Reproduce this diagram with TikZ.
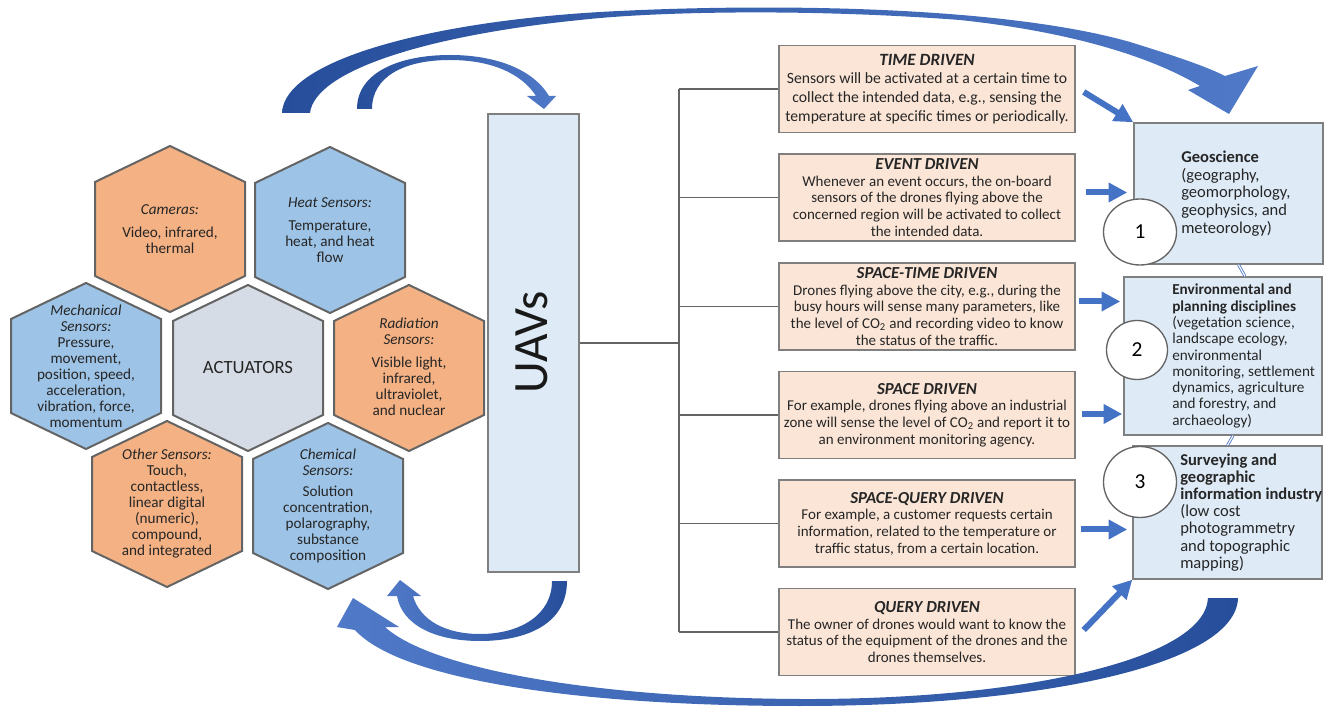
\documentclass[tikz,border=0pt]{standalone}
\usepackage{fontspec}
\setmainfont{Carlito}
\usetikzlibrary{arrows.meta,shapes.geometric,calc}

\definecolor{peach}{RGB}{251,229,214}
\definecolor{paleblue}{RGB}{222,235,247}
\definecolor{hexorange}{RGB}{244,177,131}
\definecolor{hexblue}{RGB}{157,195,230}
\definecolor{hexgray}{RGB}{214,220,229}
\definecolor{edgegray}{RGB}{100,100,100}
\definecolor{boxedge}{RGB}{127,127,127}
\definecolor{arrowblue}{RGB}{68,114,196}
\definecolor{darkblue}{RGB}{38,78,155}
\definecolor{midblue}{RGB}{80,122,200}

\newcommand\fs[2]{\fontsize{#1}{#2}\selectfont}
% heading of a data collection mode, a little larger than its description
\newcommand\modetitle[2][12.6]{{\fontsize{#1}{12.5}\selectfont\bfseries\itshape #2}}
% pointy-top hexagon around (#1,#2), 150 wide and 166 tall
\newcommand\hexpath[2]{(#1,#2-83) -- (#1+75,#2-47) -- (#1+75,#2+47) -- (#1,#2+83) -- (#1-75,#2+47) -- (#1-75,#2-47) -- cycle}

\tikzset{
  hexcell/.style={draw=edgegray, line width=1.5pt, line join=miter},
  hextext/.style={align=center, inner sep=0pt, font=\fs{11.4}{12}, text=black!85},
  peachbox/.style={draw=boxedge, fill=peach, line width=1.1pt, minimum width=222pt,
    minimum height=65.25pt, align=center, inner sep=0pt, text=black!85},
  fieldbox/.style={draw=boxedge, fill=paleblue, line width=1.1pt, inner sep=0pt},
  fieldtext/.style={anchor=west, align=left, inner sep=0pt, text=black!85},
  numdisc/.style={ellipse, draw=edgegray, fill=white, line width=1pt, inner sep=0pt,
    font=\fs{16}{16}},
  bus/.style={draw=edgegray, line width=1.1pt},
  flowarrow/.style={draw=arrowblue, line width=4.5pt, -{Triangle[length=14pt,width=14pt]}},
  linkline/.style={draw=arrowblue, double=white, double distance=0.9pt, line width=0.6pt}
}

\begin{document}
\begin{tikzpicture}[x=0.75pt,y=-0.75pt]
\useasboundingbox (0,0) rectangle (1328,712);

% ---------- sensor hexagons ----------
\path[hexcell, fill=hexorange] \hexpath{170}{229};
\path[hexcell, fill=hexblue]   \hexpath{330}{230};
\path[hexcell, fill=hexblue]   \hexpath{86}{366};
\path[hexcell, fill=hexgray]   \hexpath{248}{368};
\path[hexcell, fill=hexorange] \hexpath{409}{368};
\path[hexcell, fill=hexorange] \hexpath{167}{504};
\path[hexcell, fill=hexblue]   \hexpath{328}{506};

\node[hextext] (cam) at (170,229) {\textit{Cameras:}\\[5pt]Video, infrared,\\thermal};
\node[hextext] (heat) at (330,230) {\textit{Heat Sensors:}\\[5pt]Temperature,\\heat, and heat\\flow};
\node[hextext] (mech) at (86,366) {\textit{Mechanical}\\\textit{Sensors:}\\Pressure,\\movement,\\position, speed,\\acceleration,\\vibration, force,\\momentum};
\node[hextext, font=\fs{14}{14}] (act) at (248,368) {ACTUATORS};
\node[hextext] (rad) at (409,367) {\textit{Radiation}\\\textit{Sensors:}\\[5pt]Visible light,\\infrared,\\ultraviolet,\\and nuclear};
\node[hextext] (other) at (167,504) {\textit{Other Sensors:}\\Touch,\\contactless,\\linear digital\\(numeric),\\compound,\\and integrated};
\node[hextext] (chem) at (328,506) {\textit{Chemical}\\\textit{Sensors:}\\[4pt]Solution\\concentration,\\polarography,\\substance\\composition};

% ---------- UAV column ----------
\node[fieldbox, minimum width=68.25pt, minimum height=343.5pt] (uav) at (533.5,343) {};
\node[rotate=90, inner sep=0pt, font=\fs{37}{37}, text=black!90] (uavlabel) at (531.5,342) {UAVs};

% ---------- data collection modes ----------
\node[peachbox, font=\fs{11.75}{14}] (t1) at (927,89)
  {\modetitle[12.9]{TIME DRIVEN}\\Sensors will be activated at a certain time to\\collect the intended data, e.g., sensing the\\temperature at specific times or periodically.};
\node[peachbox, font=\fs{11.25}{12.5}] (t2) at (927,197.5)
  {\modetitle{EVENT DRIVEN}\\Whenever an event occurs, the on-board\\sensors of the drones flying above the\\concerned region will be activated to collect\\the intended data.};
\node[peachbox, font=\fs{11.25}{12.5}] (t3) at (927,306.5)
  {\modetitle{SPACE-TIME DRIVEN}\\Drones flying above the city, e.g., during the\\busy hours will sense many parameters, like\\the level of CO\textsubscript{2} and recording video to know\\the status of the traffic.};
\node[peachbox, font=\fs{11.25}{12.5}] (t4) at (927,415)
  {\modetitle{SPACE DRIVEN}\\For example, drones flying above an industrial\\zone will sense the level of CO\textsubscript{2} and report it to\\an environment monitoring agency.};
\node[peachbox, font=\fs{11.25}{12.5}] (t5) at (927,523.5)
  {\modetitle{SPACE-QUERY DRIVEN}\\For example, a customer requests certain\\information, related to the temperature or\\traffic status, from a certain location.};
\node[peachbox, font=\fs{11.25}{12.5}] (t6) at (927,632)
  {\modetitle{QUERY DRIVEN}\\The owner of drones would want to know the\\status of the equipment of the drones and the\\drones themselves.};

% ---------- bus from the UAVs to every mode ----------
\coordinate (hub) at (679,343);
\draw[bus] (uav.east) -- (hub);
\draw[bus] (t1.west -| hub) -- (t6.west -| hub);
\foreach \t in {t1,t2,t3,t4,t5,t6} \draw[bus] (\t.west -| hub) -- (\t.west);

% ---------- application fields ----------
\node[fieldbox, minimum width=141.75pt, minimum height=105.75pt] (geo) at (1228.5,193.5) {};
\node[fieldbox, minimum width=148.5pt, minimum height=118.5pt] (env) at (1223,356) {};
\node[fieldbox, minimum width=141.75pt, minimum height=99.75pt] (surv) at (1227.5,512.5) {};

\draw[linkline] ($(geo.south)+(10,0)$) -- ($(env.north)+(22,0)$);
\draw[linkline] ($(env.south)+(10,0)$) -- ($(surv.north)+(0,0)$);

\node[fieldtext, font=\fs{12.4}{13.3}] (geotxt) at (1181,193.5)
  {\textbf{Geoscience}\\(geography,\\geomorphology,\\geophysics, and\\meteorology)};
\node[fieldtext, font=\fs{11.4}{12.2}] (envtxt) at (1172,356)
  {\textbf{Environmental and}\\\textbf{planning disciplines}\\(vegetation science,\\landscape ecology,\\environmental\\monitoring, settlement\\dynamics, agriculture\\and forestry, and\\archaeology)};
\node[fieldtext, font=\fs{12.4}{12.8}] (survtxt) at (1180,512.5)
  {\textbf{Surveying and}\\\textbf{geographic}\\\textbf{information industry}\\(low cost\\photogrammetry\\and topographic\\mapping)};

\node[numdisc, minimum width=54.75pt, minimum height=49.5pt] (n1) at (1140,232) {1};
\node[numdisc, minimum width=45.75pt, minimum height=44.25pt] (n2) at (1137,350) {2};
\node[numdisc, minimum width=54.75pt, minimum height=53.25pt] (n3) at (1140,482) {3};

% ---------- mode-to-field arrows ----------
\draw[flowarrow] ($(t1.east)+(8,3)$) -- (geo.north west);
\draw[flowarrow] ($(t2.east)+(10,-5)$) -- ($(t2.east -| geo.west)+(-6,-5)$);
\draw[flowarrow] ($(t3.east)+(3,-5)$) -- ($(t3.east -| env.west)+(-3,-5)$);
\draw[flowarrow] ($(t4.east)+(6,-1)$) -- ($(t4.east -| env.west)+(-1,-1)$);
\draw[flowarrow] ($(t5.east)+(5,6)$) -- ($(t5.east -| surv.west)+(-5,6)$);
\draw[flowarrow] ($(t6.east)+(8,-2)$) -- (surv.south west);

% ---------- curved feedback arrows ----------
% large arc from the sensors over to the application fields
\shade[left color=darkblue, right color=midblue]
  (282,113) .. controls (284,60) and (430,22) .. (600,12)
  .. controls (760,3) and (1000,5) .. (1130,42)
  .. controls (1175,56) and (1205,66) .. (1225,76)
  -- (1258,66) -- (1229,114) -- (1188,90) -- (1200,86)
  .. controls (1170,68) and (1100,35) .. (960,20)
  .. controls (800,8) and (650,12) .. (580,20)
  .. controls (430,35) and (315,70) .. (310,113) -- cycle;
% small arc from the sensors into the UAVs
\shade[left color=darkblue, right color=midblue]
  (357,109) .. controls (357,72) and (400,55) .. (450,55)
  .. controls (500,55) and (535,72) .. (549,96)
  -- (556,96) -- (544,109) -- (527,96) -- (536,96)
  .. controls (522,74) and (492,60) .. (450,60)
  .. controls (405,60) and (372,76) .. (372,109) -- cycle;
% small arc from the UAVs back to the sensors
\shade[left color=midblue, right color=darkblue]
  (567,581) .. controls (567,625) and (525,641) .. (480,641)
  .. controls (435,641) and (402,625) .. (397,596)
  -- (387,596) -- (400,580) -- (421,596) -- (413,596)
  .. controls (420,620) and (445,634) .. (480,634)
  .. controls (520,634) and (552,615) .. (552,581) -- cycle;
% large arc from the application fields back to the sensors
\shade[left color=midblue, right color=darkblue]
  (1238,598) .. controls (1236,665) and (1040,706) .. (800,706)
  .. controls (580,706) and (400,680) .. (355,630)
  -- (337,627) -- (353,598) -- (399,627) -- (385,627)
  .. controls (430,668) and (590,698) .. (800,699)
  .. controls (1020,700) and (1205,660) .. (1208,598) -- cycle;
\end{tikzpicture}
\end{document}
